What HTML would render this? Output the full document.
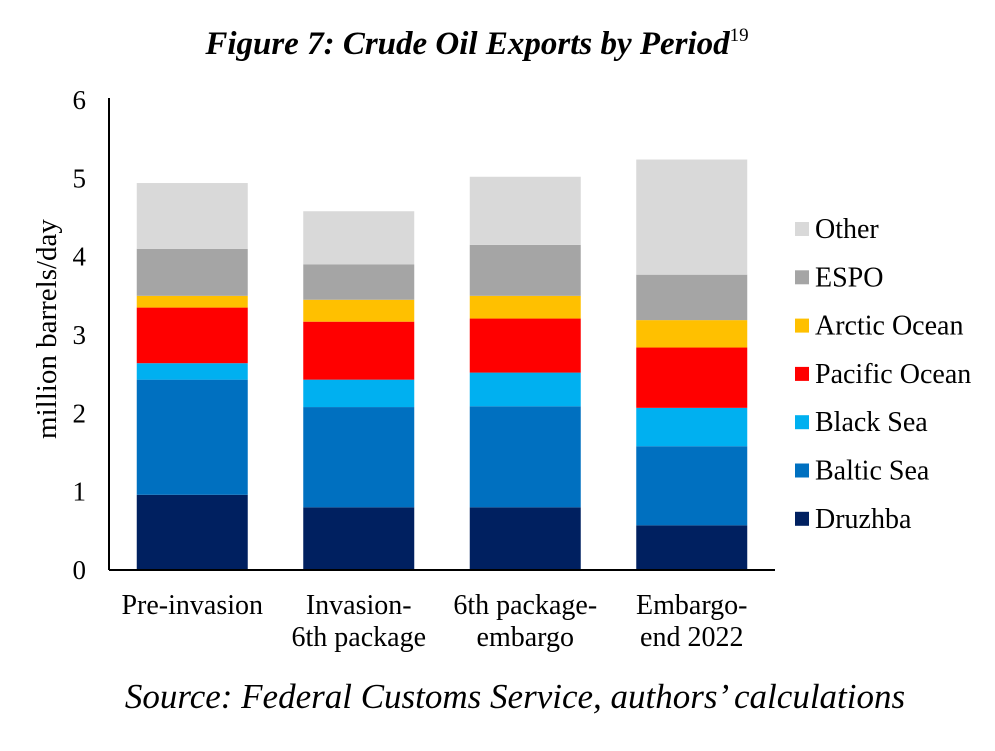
<!DOCTYPE html>
<html><head><meta charset="utf-8"><style>
body{margin:0;background:#fff;width:995px;height:746px;overflow:hidden;font-family:"Liberation Serif",serif}
svg text{font-family:"Liberation Serif",serif}
</style></head><body>
<svg id="chart" width="995" height="746" xmlns="http://www.w3.org/2000/svg">
<text x="477" y="54" text-anchor="middle" font-size="33" font-weight="bold" font-style="italic">Figure 7: Crude Oil Exports by Period<tspan font-size="19" font-weight="normal" font-style="normal" dy="-13">19</tspan></text>
<text transform="translate(56,329) rotate(-90)" text-anchor="middle" font-size="29">million barrels/day</text>
<g id="bars"></g><g id="axes"></g><g id="legend"></g>
<text x="515" y="708" text-anchor="middle" font-size="35" font-style="italic">Source: Federal Customs Service, authors’ calculations</text>
</svg>
<script>
const categories=[["Pre-invasion"],["Invasion-","6th package"],["6th package-","embargo"],["Embargo-","end 2022"]];
const seriesNames=["Druzhba","Baltic Sea","Black Sea","Pacific Ocean","Arctic Ocean","ESPO","Other"];
const druzhba=[0.96,0.80,0.80,0.57];
const balticSea=[1.47,1.28,1.29,1.01];
const blackSea=[0.21,0.35,0.43,0.49];
const pacificOcean=[0.71,0.74,0.69,0.77];
const arcticOcean=[0.15,0.28,0.29,0.35];
const espo=[0.60,0.45,0.65,0.58];
const other=[0.84,0.68,0.87,1.47];
const yTicks=[0,1,2,3,4,5,6];
const series=[druzhba,balticSea,blackSea,pacificOcean,arcticOcean,espo,other];
const colors=["#002060","#0070C0","#00B0F0","#FF0000","#FFC000","#A5A5A5","#D9D9D9"];
const NS="http://www.w3.org/2000/svg";
const y0=570,yTop=100,yMax=6,x0=109,xEnd=775;
const y=v=>y0-(v/yMax)*(y0-yTop);
const band=(xEnd-x0)/categories.length, bw=111;
const xc=i=>x0+band*(i+0.5);
function mk(t,a,p){const e=document.createElementNS(NS,t);for(const k in a)e.setAttribute(k,a[k]);p.appendChild(e);return e;}
const gb=document.getElementById('bars');
categories.forEach((c,i)=>{let cum=0;
 series.forEach((s,j)=>{const r=mk('rect',{x:xc(i)-bw/2,y:y(cum+s[i]),width:bw,height:y(cum)-y(cum+s[i]),fill:colors[j]},gb);
 
 
 cum+=s[i];});
 c.forEach((line,k)=>{const t=mk('text',{x:xc(i),y:614+k*32,'text-anchor':'middle','font-size':28},gb);t.textContent=line;
 
 });
});
const ga=document.getElementById('axes');
const ya=mk('line',{x1:x0,y1:yTop-2,x2:x0,y2:y0,stroke:'#000','stroke-width':2},ga);


const xa=mk('line',{x1:x0,y1:y0,x2:xEnd,y2:y0,stroke:'#000','stroke-width':2},ga);


yTicks.forEach(v=>{const t=mk('text',{x:86,y:y(v)+9,'text-anchor':'end','font-size':27},ga);t.textContent=v;
 
 });
const gl=document.getElementById('legend');
for(let j=seriesNames.length-1;j>=0;j--){const k=seriesNames.length-1-j;const yy=229+k*48.3;
 const g=mk('g',{},gl);
 
 
 mk('rect',{x:795,y:yy-7,width:14,height:14,fill:colors[j]},g);
 const t=mk('text',{x:815,y:yy+9,'font-size':28},g);t.textContent=seriesNames[j];}
</script>
</body></html>
